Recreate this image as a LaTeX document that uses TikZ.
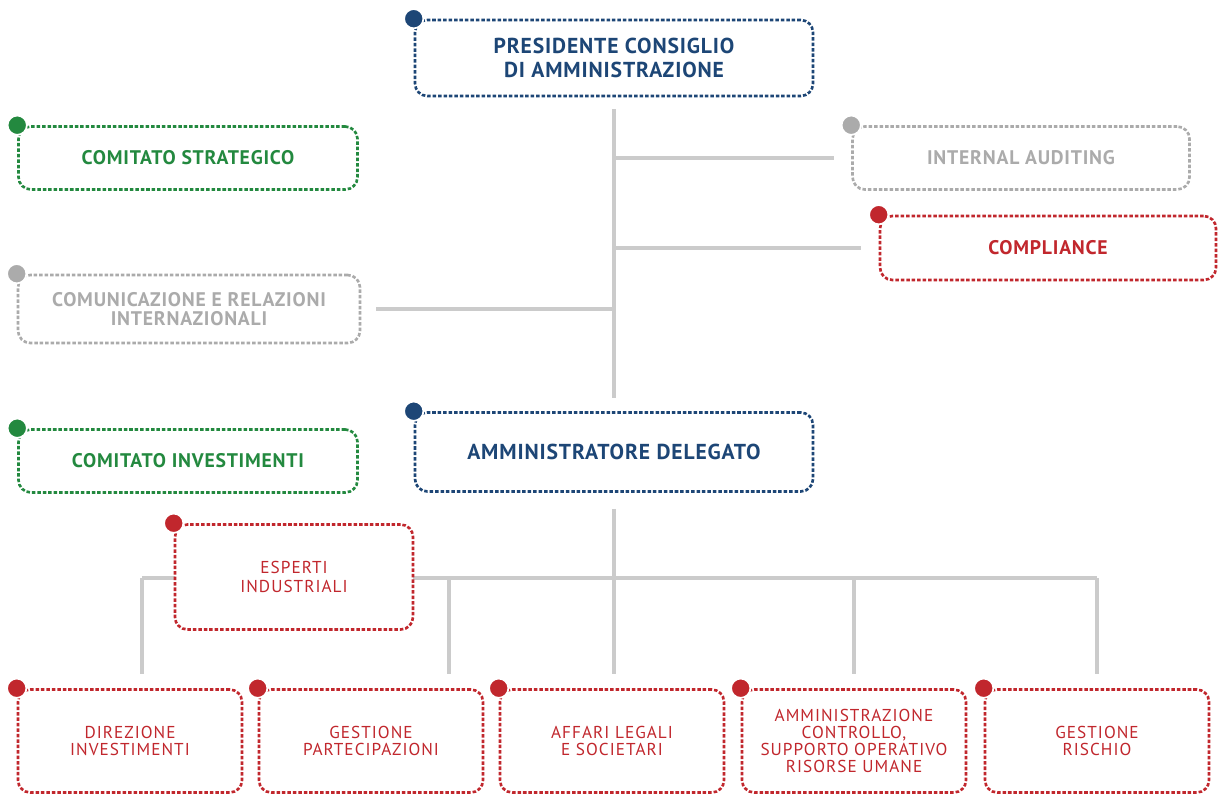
\documentclass[tikz,border=0pt]{standalone}
\usepackage{fontspec}
\setmainfont{PT Sans}
\newfontfamily\widefont[LetterSpace=4]{PT Sans}
\newfontfamily\unitfont[LetterSpace=6]{PT Sans}
\definecolor{navy}{HTML}{1D4676}
\definecolor{leafgreen}{HTML}{23893F}
\definecolor{softgray}{HTML}{ABABAB}
\definecolor{brickred}{HTML}{C1272D}
\definecolor{linegray}{HTML}{CBCBCB}

\begin{document}
\begin{tikzpicture}[x=0.02cm,y=-0.02cm,
  orgbox/.style={draw=#1,text=#1,rectangle,rounded corners=7pt,line width=1.5pt,
    dash pattern=on 2pt off 1.1pt,fill=white,align=center,inner sep=0pt},
  headbox/.style={orgbox=#1,minimum width=7.96cm,font=\widefont\bfseries\fontsize{12.3}{13.6}\selectfont},
  sidebox/.style={orgbox=#1,minimum width=6.78cm,minimum height=1.26cm,font=\widefont\bfseries\fontsize{11.2}{10.4}\selectfont},
  unitbox/.style={orgbox=brickred,minimum width=4.48cm,minimum height=2.06cm,font=\unitfont\fontsize{9.8}{9.6}\selectfont},
  link/.style={draw=linegray,line width=2.3pt},
  pin/.style={fill=#1,draw=white,line width=1pt}]
\useasboundingbox (0,0) rectangle (1219,796);

% vertici
\node[headbox=navy,minimum height=1.52cm] (pres) at (614,58) {PRESIDENTE CONSIGLIO\\DI AMMINISTRAZIONE};
\node[headbox=navy,minimum height=1.58cm] (amm) at (614,452) {AMMINISTRATORE DELEGATO};

% comitati e staff
\node[sidebox=leafgreen] (cstrat) at (188,158) {COMITATO STRATEGICO};
\node[sidebox=leafgreen] (cinv) at (188,461) {COMITATO INVESTIMENTI};
\node[sidebox=softgray,minimum height=1.36cm,minimum width=6.84cm] (comun) at (189,309) {COMUNICAZIONE E RELAZIONI\\INTERNAZIONALI};
\node[sidebox=softgray,minimum width=6.74cm] (audit) at (1021,158) {INTERNAL AUDITING};
\node[sidebox=brickred,minimum width=6.72cm,minimum height=1.28cm] (compl) at (1048,248) {COMPLIANCE};

% direzioni
\node[unitbox] (dirinv) at (130,741) {DIREZIONE\\INVESTIMENTI};
\node[unitbox] (gestpart) at (371,741) {GESTIONE\\PARTECIPAZIONI};
\node[unitbox] (legali) at (612,741) {AFFARI LEGALI\\E SOCIETARI};
\node[unitbox] (amministr) at (854,741) {AMMINISTRAZIONE\\CONTROLLO,\\SUPPORTO OPERATIVO\\RISORSE UMANE};
\node[unitbox] (rischio) at (1097,741) {GESTIONE\\RISCHIO};

% collegamenti
\draw[link,shorten <=0.24cm,shorten >=0.26cm] (pres.south) -- (amm.north);
\draw[link,shorten >=0.34cm] (pres.south |- audit.west) -- (audit.west);
\draw[link,shorten >=0.36cm] (pres.south |- compl.west) -- (compl.west);
\draw[link,shorten >=0.3cm] (pres.south |- comun.east) -- (comun.east);
\coordinate (bus) at (614,578);
\draw[link,shorten <=0.32cm] (amm.south) -- (bus);
\draw[link] ([xshift=0.24cm]dirinv.north |- bus) -- (rischio.north |- bus);
\draw[link,shorten >=0.28cm] ([xshift=0.24cm]dirinv.north |- bus) -- ([xshift=0.24cm]dirinv.north);
\draw[link,shorten >=0.28cm] ([xshift=1.56cm]gestpart.north |- bus) -- ([xshift=1.56cm]gestpart.north);
\draw[link,shorten >=0.28cm] (bus) -- (legali.north -| bus);
\draw[link,shorten >=0.28cm] (amministr.north |- bus) -- (amministr.north);
\draw[link,shorten >=0.28cm] (rischio.north |- bus) -- (rischio.north);

\node[unitbox,minimum width=4.76cm,minimum height=2.1cm,font=\unitfont\fontsize{9.8}{10.8}\selectfont] (esperti) at (294,577) {ESPERTI\\INDUSTRIALI};

% pallini
\fill[pin=navy] (pres.north west) circle (5.5pt);
\fill[pin=navy] (amm.north west) circle (5.5pt);
\fill[pin=leafgreen] (cstrat.north west) circle (5.5pt);
\fill[pin=leafgreen] (cinv.north west) circle (5.5pt);
\fill[pin=softgray] (comun.north west) circle (5.5pt);
\fill[pin=softgray] (audit.north west) circle (5.5pt);
\fill[pin=brickred] (compl.north west) circle (5.5pt);
\fill[pin=brickred] (esperti.north west) circle (5.5pt);
\fill[pin=brickred] (dirinv.north west) circle (5.5pt);
\fill[pin=brickred] (gestpart.north west) circle (5.5pt);
\fill[pin=brickred] (legali.north west) circle (5.5pt);
\fill[pin=brickred] (amministr.north west) circle (5.5pt);
\fill[pin=brickred] (rischio.north west) circle (5.5pt);
\end{tikzpicture}
\end{document}
